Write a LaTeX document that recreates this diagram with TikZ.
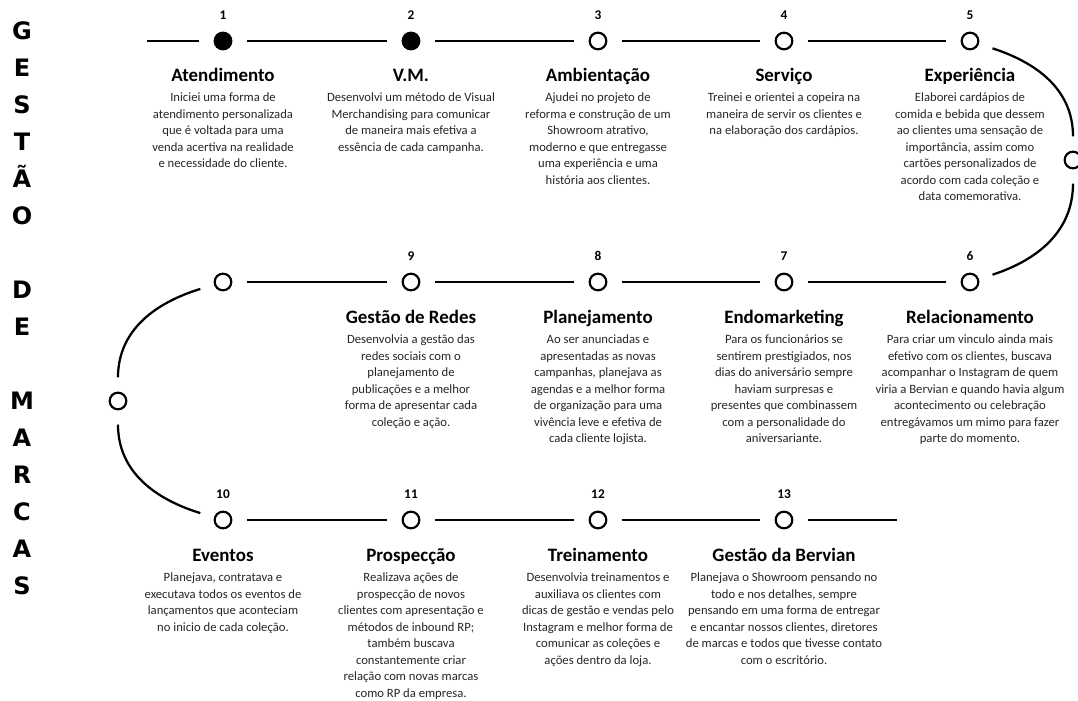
\documentclass[tikz,border=0pt]{standalone}
\usepackage{fontspec}
\setmainfont{Carlito}
\newfontfamily\sidefont{DejaVu Sans}
\usetikzlibrary{positioning}
\definecolor{bodygray}{HTML}{262626}

\tikzset{
  dot/.style={circle, draw, line width=1.6pt, minimum size=12.5pt, inner sep=0pt, outer sep=11.5pt},
  done/.style={dot, fill=black},
  num/.style={font=\bfseries\fontsize{10}{12}\selectfont, inner sep=0pt},
  title/.style={font=\bfseries\fontsize{14.2}{16}\selectfont, inner sep=0pt, text height=10pt, text depth=3pt},
  desc/.style={align=center, text=bodygray, font=\fontsize{9.5}{12.4}\selectfont, inner sep=0pt, below=5pt of #1},
  link/.style={line width=1.7pt},
}

\begin{document}
\begin{tikzpicture}[x=0.75pt, y=0.75pt]
  \useasboundingbox (0,0) rectangle (1078,-700);
  \clip (0,0) rectangle (1078,-700);

  % side title
  \node[font=\sidefont\bfseries\fontsize{18}{27.75}\selectfont, align=center, inner sep=0pt, anchor=north] (side) at (22,-21)
    {G\\E\\S\\T\\Ã\\O\\[27.75pt]D\\E\\[27.75pt]M\\A\\R\\C\\A\\S};

  % first row
  \coordinate (s) at (147,-41);
  \node[done] (c1) at (223,-41) {};
  \node[done] (c2) at (411,-41) {};
  \node[dot] (c3) at (598,-41) {};
  \node[dot] (c4) at (784,-41) {};
  \node[dot] (c5) at (970,-41) {};
  \node[dot] (cR) at (1073,-160) {};

  \node[num] (n1) at (223,-15) {1};
  \node[num] (n2) at (411,-15) {2};
  \node[num] (n3) at (598,-15) {3};
  \node[num] (n4) at (784,-15) {4};
  \node[num] (n5) at (970,-15) {5};

  \node[title] (t1) at (223,-77) {Atendimento};
  \node[desc=t1] (d1) {Iniciei uma forma de\\atendimento personalizada\\que é voltada para uma\\venda acertiva na realidade\\e necessidade do cliente.};
  \node[title] (t2) at (411,-77) {V.M.};
  \node[desc=t2] (d2) {Desenvolvi um método de Visual\\Merchandising para comunicar\\de maneira mais efetiva a\\essência de cada campanha.};
  \node[title] (t3) at (598,-77) {Ambientação};
  \node[desc=t3] (d3) {Ajudei no projeto de\\reforma e construção de um\\Showroom atrativo,\\moderno e que entregasse\\uma experiência e uma\\história aos clientes.};
  \node[title] (t4) at (784,-77) {Serviço};
  \node[desc=t4] (d4) {Treinei e orientei a copeira na\\maneira de servir os clientes e\\na elaboração dos cardápios.};
  \node[title] (t5) at (970,-77) {Experiência};
  \node[desc=t5] (d5) {Elaborei cardápios de\\comida e bebida que dessem\\ao clientes uma sensação de\\importância, assim como\\cartões personalizados de\\acordo com cada coleção e\\data comemorativa.};

  % second row
  \node[dot] (c6) at (970,-282) {};
  \node[dot] (c7) at (784,-282) {};
  \node[dot] (c8) at (598,-282) {};
  \node[dot] (c9) at (411,-282) {};
  \node[dot] (cA) at (223,-282) {};
  \node[dot] (cL) at (118,-401) {};

  \node[num] (n6) at (970,-256) {6};
  \node[num] (n7) at (784,-256) {7};
  \node[num] (n8) at (598,-256) {8};
  \node[num] (n9) at (411,-256) {9};

  \node[title] (t6) at (970,-319) {Relacionamento};
  \node[desc=t6] (d6) {Para criar um vinculo ainda mais\\efetivo com os clientes, buscava\\acompanhar o Instagram de quem\\viria a Bervian e quando havia algum\\acontecimento ou celebração\\entregávamos um mimo para fazer\\parte do momento.};
  \node[title] (t7) at (784,-319) {Endomarketing};
  \node[desc=t7] (d7) {Para os funcionários se\\sentirem prestigiados, nos\\dias do aniversário sempre\\haviam surpresas e\\presentes que combinassem\\com a personalidade do\\aniversariante.};
  \node[title] (t8) at (598,-319) {Planejamento};
  \node[desc=t8] (d8) {Ao ser anunciadas e\\apresentadas as novas\\campanhas, planejava as\\agendas e a melhor forma\\de organização para uma\\vivência leve e efetiva de\\cada cliente lojista.};
  \node[title] (t9) at (411,-319) {Gestão de Redes};
  \node[desc=t9] (d9) {Desenvolvia a gestão das\\redes sociais com o\\planejamento de\\publicações e a melhor\\forma de apresentar cada\\coleção e ação.};

  % third row
  \node[dot] (c10) at (223,-520) {};
  \node[dot] (c11) at (411,-520) {};
  \node[dot] (c12) at (598,-520) {};
  \node[dot] (c13) at (784,-520) {};
  \coordinate (e) at (897,-520);

  \node[num] (n10) at (223,-494) {10};
  \node[num] (n11) at (411,-494) {11};
  \node[num] (n12) at (598,-494) {12};
  \node[num] (n13) at (784,-494) {13};

  \node[title] (t10) at (223,-557) {Eventos};
  \node[desc=t10] (d10) {Planejava, contratava e\\executava todos os eventos de\\lançamentos que aconteciam\\no inicio de cada coleção.};
  \node[title] (t11) at (411,-557) {Prospecção};
  \node[desc=t11] (d11) {Realizava ações de\\prospecção de novos\\clientes com apresentação e\\métodos de inbound RP;\\também buscava\\constantemente criar\\relação com novas marcas\\como RP da empresa.};
  \node[title] (t12) at (598,-557) {Treinamento};
  \node[desc=t12] (d12) {Desenvolvia treinamentos e\\auxiliava os clientes com\\dicas de gestão e vendas pelo\\Instagram e melhor forma de\\comunicar as coleções e\\ações dentro da loja.};
  \node[title] (t13) at (784,-557) {Gestão da Bervian};
  \node[desc=t13] (d13) {Planejava o Showroom pensando no\\todo e nos detalhes, sempre\\pensando em uma forma de entregar\\e encantar nossos clientes, diretores\\de marcas e todos que tivesse contato\\com o escritório.};

  % timeline
  \draw[link] (s) -- (c1);
  \draw[link] (c1) -- (c2);
  \draw[link] (c2) -- (c3);
  \draw[link] (c3) -- (c4);
  \draw[link] (c4) -- (c5);
  \draw[link] (c5) to[out=-18, in=90] (cR);
  \draw[link] (cR) to[out=-90, in=18] (c6);
  \draw[link] (c6) -- (c7);
  \draw[link] (c7) -- (c8);
  \draw[link] (c8) -- (c9);
  \draw[link] (c9) -- (cA);
  \draw[link] (cA) to[out=197, in=90] (cL);
  \draw[link] (cL) to[out=-90, in=163] (c10);
  \draw[link] (c10) -- (c11);
  \draw[link] (c11) -- (c12);
  \draw[link] (c12) -- (c13);
  \draw[link] (c13) -- (e);
\end{tikzpicture}
\end{document}
